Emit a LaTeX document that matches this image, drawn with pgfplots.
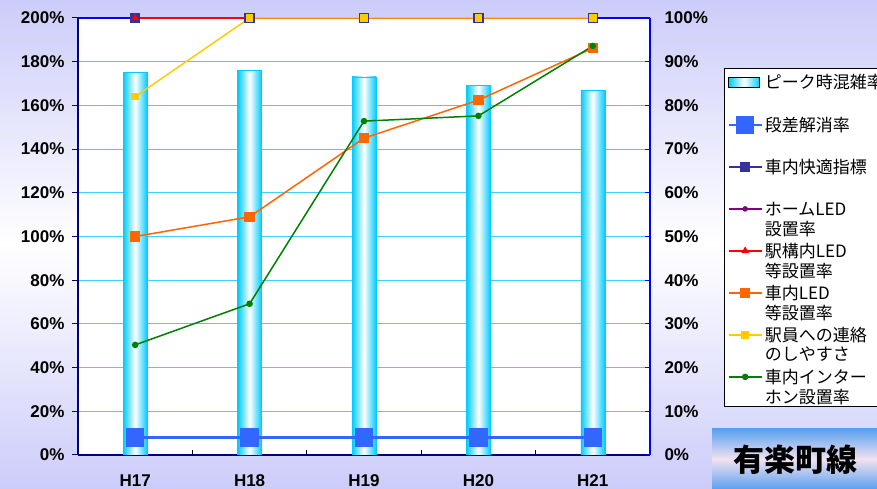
\documentclass[border=0pt]{standalone}
\usepackage{pgfplots}
\pgfplotsset{compat=1.18}
\usepackage{fontspec}
\setmainfont{Liberation Sans}
\newfontfamily\cjk{Noto Sans CJK JP}
\definecolor{lav}{RGB}{204,204,250}
\definecolor{gridc}{RGB}{64,208,255}
\definecolor{barc}{RGB}{0,204,255}
\definecolor{navy}{RGB}{0,0,128}
\definecolor{c1}{RGB}{51,102,255}
\definecolor{c2}{RGB}{51,51,153}
\definecolor{c3}{RGB}{128,0,128}
\definecolor{c4}{RGB}{255,0,0}
\definecolor{c5}{RGB}{255,102,0}
\definecolor{c6}{RGB}{255,204,0}
\definecolor{c7}{RGB}{0,128,0}
\definecolor{tb}{RGB}{90,160,240}
\definecolor{tm}{RGB}{242,226,240}
\newcommand{\two}[2]{\smash{\begin{tabular}[t]{@{}l@{}}#1\\#2\end{tabular}}}
\pgfplotsset{mybar/.style={ybar, bar width=24pt, bar shift=0pt, draw=barc, line width=0.6pt,
  left color=barc, right color=barc, middle color=white}}
\begin{document}
\begin{tikzpicture}[x=1pt,y=1pt]
\path[use as bounding box] (0,0) rectangle (877,489);
\clip (0,0) rectangle (877,489);
\shade[top color=lav,bottom color=lav,middle color=white] (0,0) rectangle (877,489);
\begin{axis}[
  at={(78pt,34pt)}, anchor=south west,
  width=572pt, height=437pt, scale only axis,
  xmin=-0.5, xmax=4.5, ymin=0, ymax=200,
  axis x line*=bottom, axis y line*=left,
  axis line style={navy, line width=2pt},
  axis background/.style={fill=white},
  xtick={0,1,2,3,4},
  xticklabels={H17,H18,H19,H20,H21},
  xtick style={draw=none},
  extra x ticks={0.5,1.5,2.5,3.5},
  extra x tick labels={},
  extra x tick style={xtick style={draw=black,line width=0.8pt}, tick align=inside, major tick length=5pt},
  ytick={0,20,...,200},
  yticklabels={0\%,20\%,40\%,60\%,80\%,100\%,120\%,140\%,160\%,180\%,200\%},
  tick align=outside, major tick length=6pt,
  ytick style={navy, line width=1pt},
  ymajorgrids, grid style={gridc, line width=1pt},
  tick label style={font=\bfseries\fontsize{17}{17}\selectfont},
  xticklabel style={yshift=-10pt},
  yticklabel style={xshift=-4pt},
]
\addplot[mybar] coordinates {(0,175)};
\addplot[mybar] coordinates {(1,176)};
\addplot[mybar] coordinates {(2,173)};
\addplot[mybar] coordinates {(3,169)};
\addplot[mybar] coordinates {(4,167)};
\end{axis}
\begin{axis}[
  at={(78pt,34pt)}, anchor=south west,
  width=572pt, height=437pt, scale only axis,
  xmin=-0.5, xmax=4.5, ymin=0, ymax=100,
  axis y line*=right, axis x line*=top,
  axis line style={blue, line width=2pt},
  xtick=\empty,
  ytick={0,10,...,100},
  yticklabels={0\%,10\%,20\%,30\%,40\%,50\%,60\%,70\%,80\%,90\%,100\%},
  tick align=inside, major tick length=5pt,
  ytick style={blue, line width=1pt},
  tick label style={font=\bfseries\fontsize{17}{17}\selectfont},
  yticklabel style={xshift=11pt},
  clip=false,
  legend image code/.code={\draw[mark repeat=2,mark phase=2,#1] plot coordinates {(0pt,7.5pt) (16.5pt,7.5pt) (33pt,7.5pt)};},
  legend cell align=left,
  legend style={at={(1.12937,0.88558)}, anchor=north west, draw=black, line width=0.8pt, fill=white,
    font=\cjk\fontsize{17}{18}\selectfont, row sep=12pt, inner xsep=3pt, inner ysep=6.5pt,
    nodes={inner ysep=1pt, text height=13pt, text depth=15pt}},
]
\addlegendimage{legend image code/.code={\shade[left color=barc,right color=barc,middle color=white] (0pt,2.5pt) rectangle (31pt,12.5pt);}}
\addlegendentry{\two{ピーク時混雑率}{}}
\addplot[c1, line width=2.5pt, mark=square*, mark size=8pt, mark options={solid}]
  coordinates {(0,4) (1,4) (2,4) (3,4) (4,4)};
\addlegendentry{\two{段差解消率}{}}
\addplot[c2, line width=1.5pt, mark=square*, mark size=4.5pt]
  coordinates {(0,100) (1,100) (2,100) (3,100) (4,100)};
\addlegendentry{\two{車内快適指標}{}}
\addplot[c3, line width=1.5pt, mark=*, mark size=2pt]
  coordinates {(0,100) (1,100) (2,100) (3,100) (4,100)};
\addlegendentry{\two{ホームLED}{設置率}}
\addplot[c4, line width=1.5pt, mark=triangle*, mark size=3pt]
  coordinates {(0,100) (1,100) (2,100) (3,100) (4,100)};
\addlegendentry{\two{駅構内LED}{等設置率}}
\addplot[c5, line width=1.5pt, mark=square*, mark size=4.5pt]
  coordinates {(0,50) (1,54.5) (2,72.5) (3,81.2) (4,93.1)};
\addlegendentry{\two{車内LED}{等設置率}}
\addplot[c6, line width=1.5pt, mark=square*, mark size=3pt]
  coordinates {(0,82) (1,100) (2,100) (3,100) (4,100)};
\addlegendentry{\two{駅員への連絡}{のしやすさ}}
\addplot[c7, line width=1.5pt, mark=*, mark size=2.5pt]
  coordinates {(0,25.2) (1,34.6) (2,76.4) (3,77.6) (4,93.6)};
\addlegendentry{\two{車内インター}{ホン設置率}}
\end{axis}
\shade[top color=tb,bottom color=tb,middle color=tm] (712,0) rectangle (877,60);
\node at (795,29) {\cjk\bfseries\fontsize{31}{31}\selectfont 有楽町線};
\end{tikzpicture}
\end{document}
